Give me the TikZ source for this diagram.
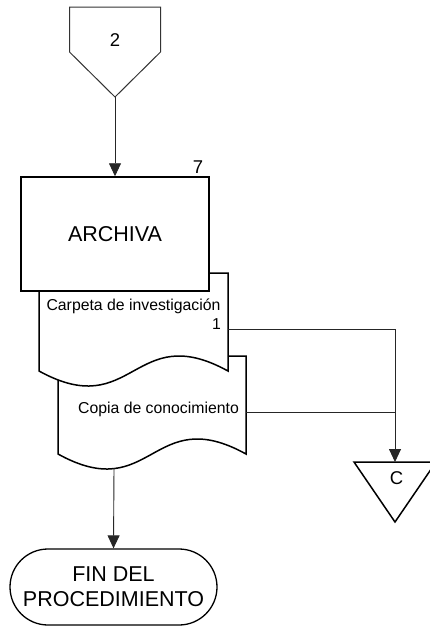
\documentclass[tikz,border=0pt]{standalone}
\usepackage{fontspec}
\setmainfont{Liberation Sans}
\usetikzlibrary{arrows.meta,shapes.misc,calc}
\begin{document}
\begin{tikzpicture}[x=1pt,y=-1pt,
  shapeline/.style={draw=black,line width=1.5pt,fill=white},
  thinshape/.style={draw=black!80,line width=1pt,fill=white},
  conn/.style={draw=black!85,line width=0.9pt},
  arr/.style={conn,-{Triangle[length=13pt,width=12pt]}},
  holder/.style={draw=none,inner sep=0pt,outer sep=0pt},
  bigtxt/.style={font=\fontsize{21.5}{25}\selectfont,inner sep=0pt},
  midtxt/.style={font=\fontsize{15.8}{19}\selectfont,inner sep=0pt},
  numtxt/.style={font=\fontsize{18.5}{22}\selectfont,inner sep=0pt}
]
\useasboundingbox (0,0) rectangle (429,627);

% off-page connector "2"
\node[holder,minimum width=91,minimum height=90] (p) at (115,52) {};
\draw[thinshape] (p.north west) -- (p.north east) -- ($(p.north east)+(0,45)$)
  -- (p.south) -- ($(p.north west)+(0,45)$) -- cycle;
\node[numtxt] (p2) at (115,40) {2};

% document 2 (behind)
\node[holder,minimum width=188,minimum height=98] (d2) at (152,405) {};
\draw[shapeline] (d2.north west) -- (d2.north east) -- (d2.south east)
  .. controls ($(d2.south)+(0,-52)$) and ($(d2.south)+(0,52)$) .. (d2.south west) -- cycle;
\node[midtxt,anchor=base] (d2t) at (158.5,413) {Copia de conocimiento};

% document 1
\node[holder,minimum width=189,minimum height=98] (d1) at (133.5,322) {};
\draw[shapeline] (d1.north west) -- (d1.north east) -- (d1.south east)
  .. controls ($(d1.south)+(0,-52)$) and ($(d1.south)+(0,52)$) .. (d1.south west) -- cycle;
\node[midtxt,anchor=base] (d1t) at (133.5,310) {Carpeta de investigación};
\node[midtxt,anchor=base east] (d1n) at (221,329) {1};

% process box
\node[shapeline,minimum width=188,minimum height=114,inner sep=0pt] (box) at (115,234) {};
\node[bigtxt] (boxt) at (115,234) {ARCHIVA};
\node[numtxt] (n7) at (198,167.5) {7};

% terminal
\node[rounded rectangle,draw=black,line width=1.3pt,fill=white,minimum width=207,
  minimum height=76,inner sep=0pt,align=center,font=\fontsize{21.5}{25}\selectfont]
  (term) at (113.5,587) {FIN DEL\\PROCEDIMIENTO};

% off-page connector C
\node[holder,minimum width=82,minimum height=60] (tri) at (395,492) {};
\draw[shapeline] (tri.north west) -- (tri.north east) -- (tri.south) -- cycle;
\node[numtxt] (trit) at (396.5,478) {C};

% connectors
\coordinate (j1) at (395,329);
\coordinate (j2) at (395,412);
\coordinate (d2b) at (114,468);
\draw[arr] (p.south) -- (box.north);
\draw[conn] (d1.east |- j1) -- (j1) -- (j2);
\draw[arr] (d2.east |- j2) -- (j2) -- (tri.north);
\draw[arr] (d2b) -- (term.north);
\end{tikzpicture}
\end{document}
